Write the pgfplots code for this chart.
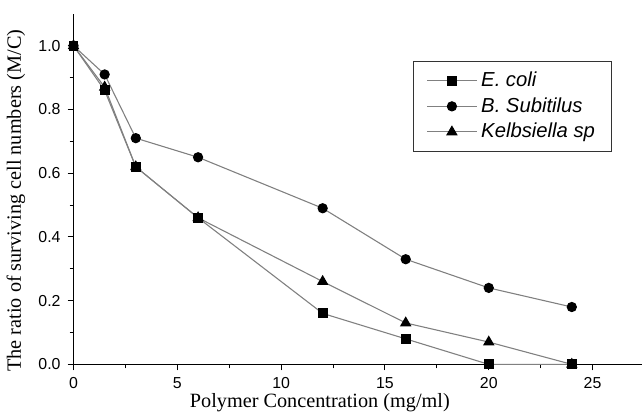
\documentclass[border=0pt]{standalone}
\usepackage{fontspec}
\setmainfont{Liberation Serif}
\newfontfamily\arial{Liberation Sans}
\usepackage{pgfplots}
\pgfplotsset{compat=1.18}
\definecolor{ln}{gray}{0.5}

\begin{document}
\begin{tikzpicture}
\begin{axis}[
  scale only axis,
  width=286.5pt, height=176.5pt,
  xmin=0, xmax=27.4,
  ymin=0, ymax=1.1,
  axis lines=left,
  axis line style={-, line width=0.6pt},
  clip=false,
  xtick={0,5,...,25},
  ytick={0,0.2,...,1.0},
  minor x tick num=1,
  minor y tick num=1,
  tick align=outside,
  major tick length=3pt,
  minor tick length=2pt,
  tick style={black, line width=0.5pt},
  ticklabel style={font=\arial\fontsize{8}{9}\selectfont},
  /pgf/number format/assume math mode=true,
  yticklabel style={/pgf/number format/fixed, /pgf/number format/fixed zerofill, /pgf/number format/precision=1},
  xlabel={Polymer Concentration (mg/ml)},
  ylabel={The ratio of surviving cell numbers (M/C)},
  label style={font=\fontsize{10.2}{12}\selectfont},
  xlabel style={at={(axis description cs:0.433,0)}, anchor=base, yshift=-21.8pt},
  ylabel style={at={([xshift=-29pt]axis description cs:0,0.467)}, anchor=center},
  legend style={at={(0.597,0.867)}, anchor=north west, draw=black!80, line width=0.5pt,
    font=\arial\itshape\fontsize{10.2}{11.75}\selectfont, row sep=0pt,
    inner xsep=6.5pt, inner ysep=3.5pt},
  legend cell align=left,
  legend image code/.code={\draw[#1, mark repeat=2, mark phase=2] plot coordinates {(0pt,0pt) (12.5pt,0pt) (25pt,0pt)};},
]
\addplot[ln, line width=0.55pt, mark=square*, mark size=2.2pt, mark options={fill=black, draw=black}] coordinates {
  (0,1.0) (1.5,0.86) (3,0.62) (6,0.46) (12,0.16) (16,0.08) (20,0.0) (24,0.0)};
\addplot[ln, line width=0.55pt, mark=*, mark size=2.3pt, mark options={fill=black, draw=black}] coordinates {
  (0,1.0) (1.5,0.91) (3,0.71) (6,0.65) (12,0.49) (16,0.33) (20,0.24) (24,0.18)};
\addplot[ln, line width=0.55pt, mark=triangle*, mark size=2.8pt, mark options={fill=black, draw=black}] coordinates {
  (0,1.0) (1.5,0.87) (3,0.62) (6,0.46) (12,0.26) (16,0.13) (20,0.07) (24,0.0)};
\legend{E. coli, B. Subitilus, Kelbsiella sp}
\end{axis}
\path[use as bounding box] ([shift={(-35pt,-22.5pt)}]current axis.south west) rectangle ++(321.5pt,206pt);
\end{tikzpicture}
\end{document}
